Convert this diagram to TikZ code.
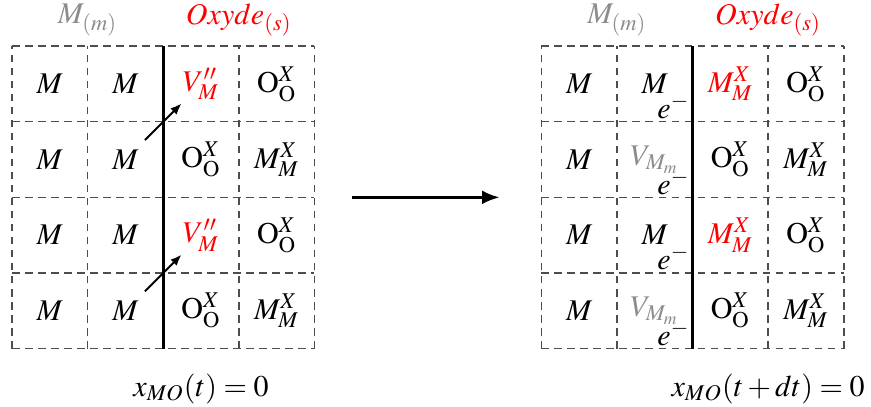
\documentclass[tikz,border=0pt]{standalone}
\usepackage{mathptmx}
\usepackage{xcolor}
\usepackage{tikz}
\usetikzlibrary{arrows.meta}
\definecolor{gris}{HTML}{8C8C8C}
\definecolor{rouge}{HTML}{FF0000}
\definecolor{trait}{HTML}{4D4D4D}
\newcommand{\Oox}{$\mathrm{O}^{X}_{\mathrm{O}}$}
\newcommand{\Mmx}{$M^{X}_{M}$}
\newcommand{\Vmr}{\textcolor{rouge}{$V''_{M}$}}
\newcommand{\Mmr}{\textcolor{rouge}{$M^{X}_{M}$}}
\newcommand{\Vmm}{\textcolor{gris}{$V_{M_m}$}}

\begin{document}
\begin{tikzpicture}[x=30.2pt, y=30.2pt, font=\fontsize{12}{14}\selectfont,
  grille/.style={draw=trait, dash pattern=on 3pt off 2.2pt, line width=0.6pt},
  interface/.style={line width=1.4pt},
  fleche/.style={-{Latex[length=4.5pt,width=3.5pt]}, line width=0.8pt, shorten <=11pt, shorten >=11pt},
  grande/.style={-{Latex[length=7pt,width=5.5pt]}, line width=1.2pt},
  elec/.style={anchor=south east, inner sep=1pt}]
  \useasboundingbox (-0.159,-0.77) rectangle (11.36,4.61);
  % instant t
  \draw[grille] (0,0) grid[step=1] (4,4);
  \draw[interface] (2,0) -- (2,4);
  \node[text=gris] (mg) at (1,4.345) {$M_{(m)}$};
  \node[text=rouge] (og) at (3,4.345) {$Oxyde_{(s)}$};
  \foreach \p/\q [count=\i] in {\Vmr/\Oox, \Oox/\Mmx, \Vmr/\Oox, \Oox/\Mmx}{
    \node (la\i) at (0.5,4.5-\i) {$M$};
    \node (lb\i) at (1.5,4.5-\i) {$M$};
    \node (lc\i) at (2.5,4.5-\i) {\p};
    \node (ld\i) at (3.5,4.5-\i) {\q};
  }
  \draw[fleche] (lb2.center) -- (lc1.center);
  \draw[fleche] (lb4.center) -- (lc3.center);
  \node (cg) at (2.5,-0.53) {$x_{MO}(t) = 0$};
  % passage
  \coordinate (dep) at (4.5,2);
  \coordinate (arr) at (6.45,2);
  \draw[grande] (dep) -- (arr);
  % instant t+dt
  \draw[grille] (7,0) grid[step=1] (11,4);
  \draw[interface] (9,0) -- (9,4);
  \node[text=gris] (md) at (8,4.345) {$M_{(m)}$};
  \node[text=rouge] (od) at (10,4.345) {$Oxyde_{(s)}$};
  \foreach \p/\q/\s [count=\i] in {$M$/\Mmr/\Oox, \Vmm/\Oox/\Mmx, $M$/\Mmr/\Oox, \Vmm/\Oox/\Mmx}{
    \node (ra\i) at (7.5,4.5-\i) {$M$};
    \node (rb\i) at (8.5,4.5-\i) {\p};
    \node (rc\i) at (9.5,4.5-\i) {\q};
    \node (rd\i) at (10.5,4.5-\i) {\s};
    \node[elec] (re\i) at (9,4-\i) {$e^-$};
  }
  \node (cd) at (10,-0.53) {$x_{MO}(t + dt) = 0$};
\end{tikzpicture}
\end{document}
